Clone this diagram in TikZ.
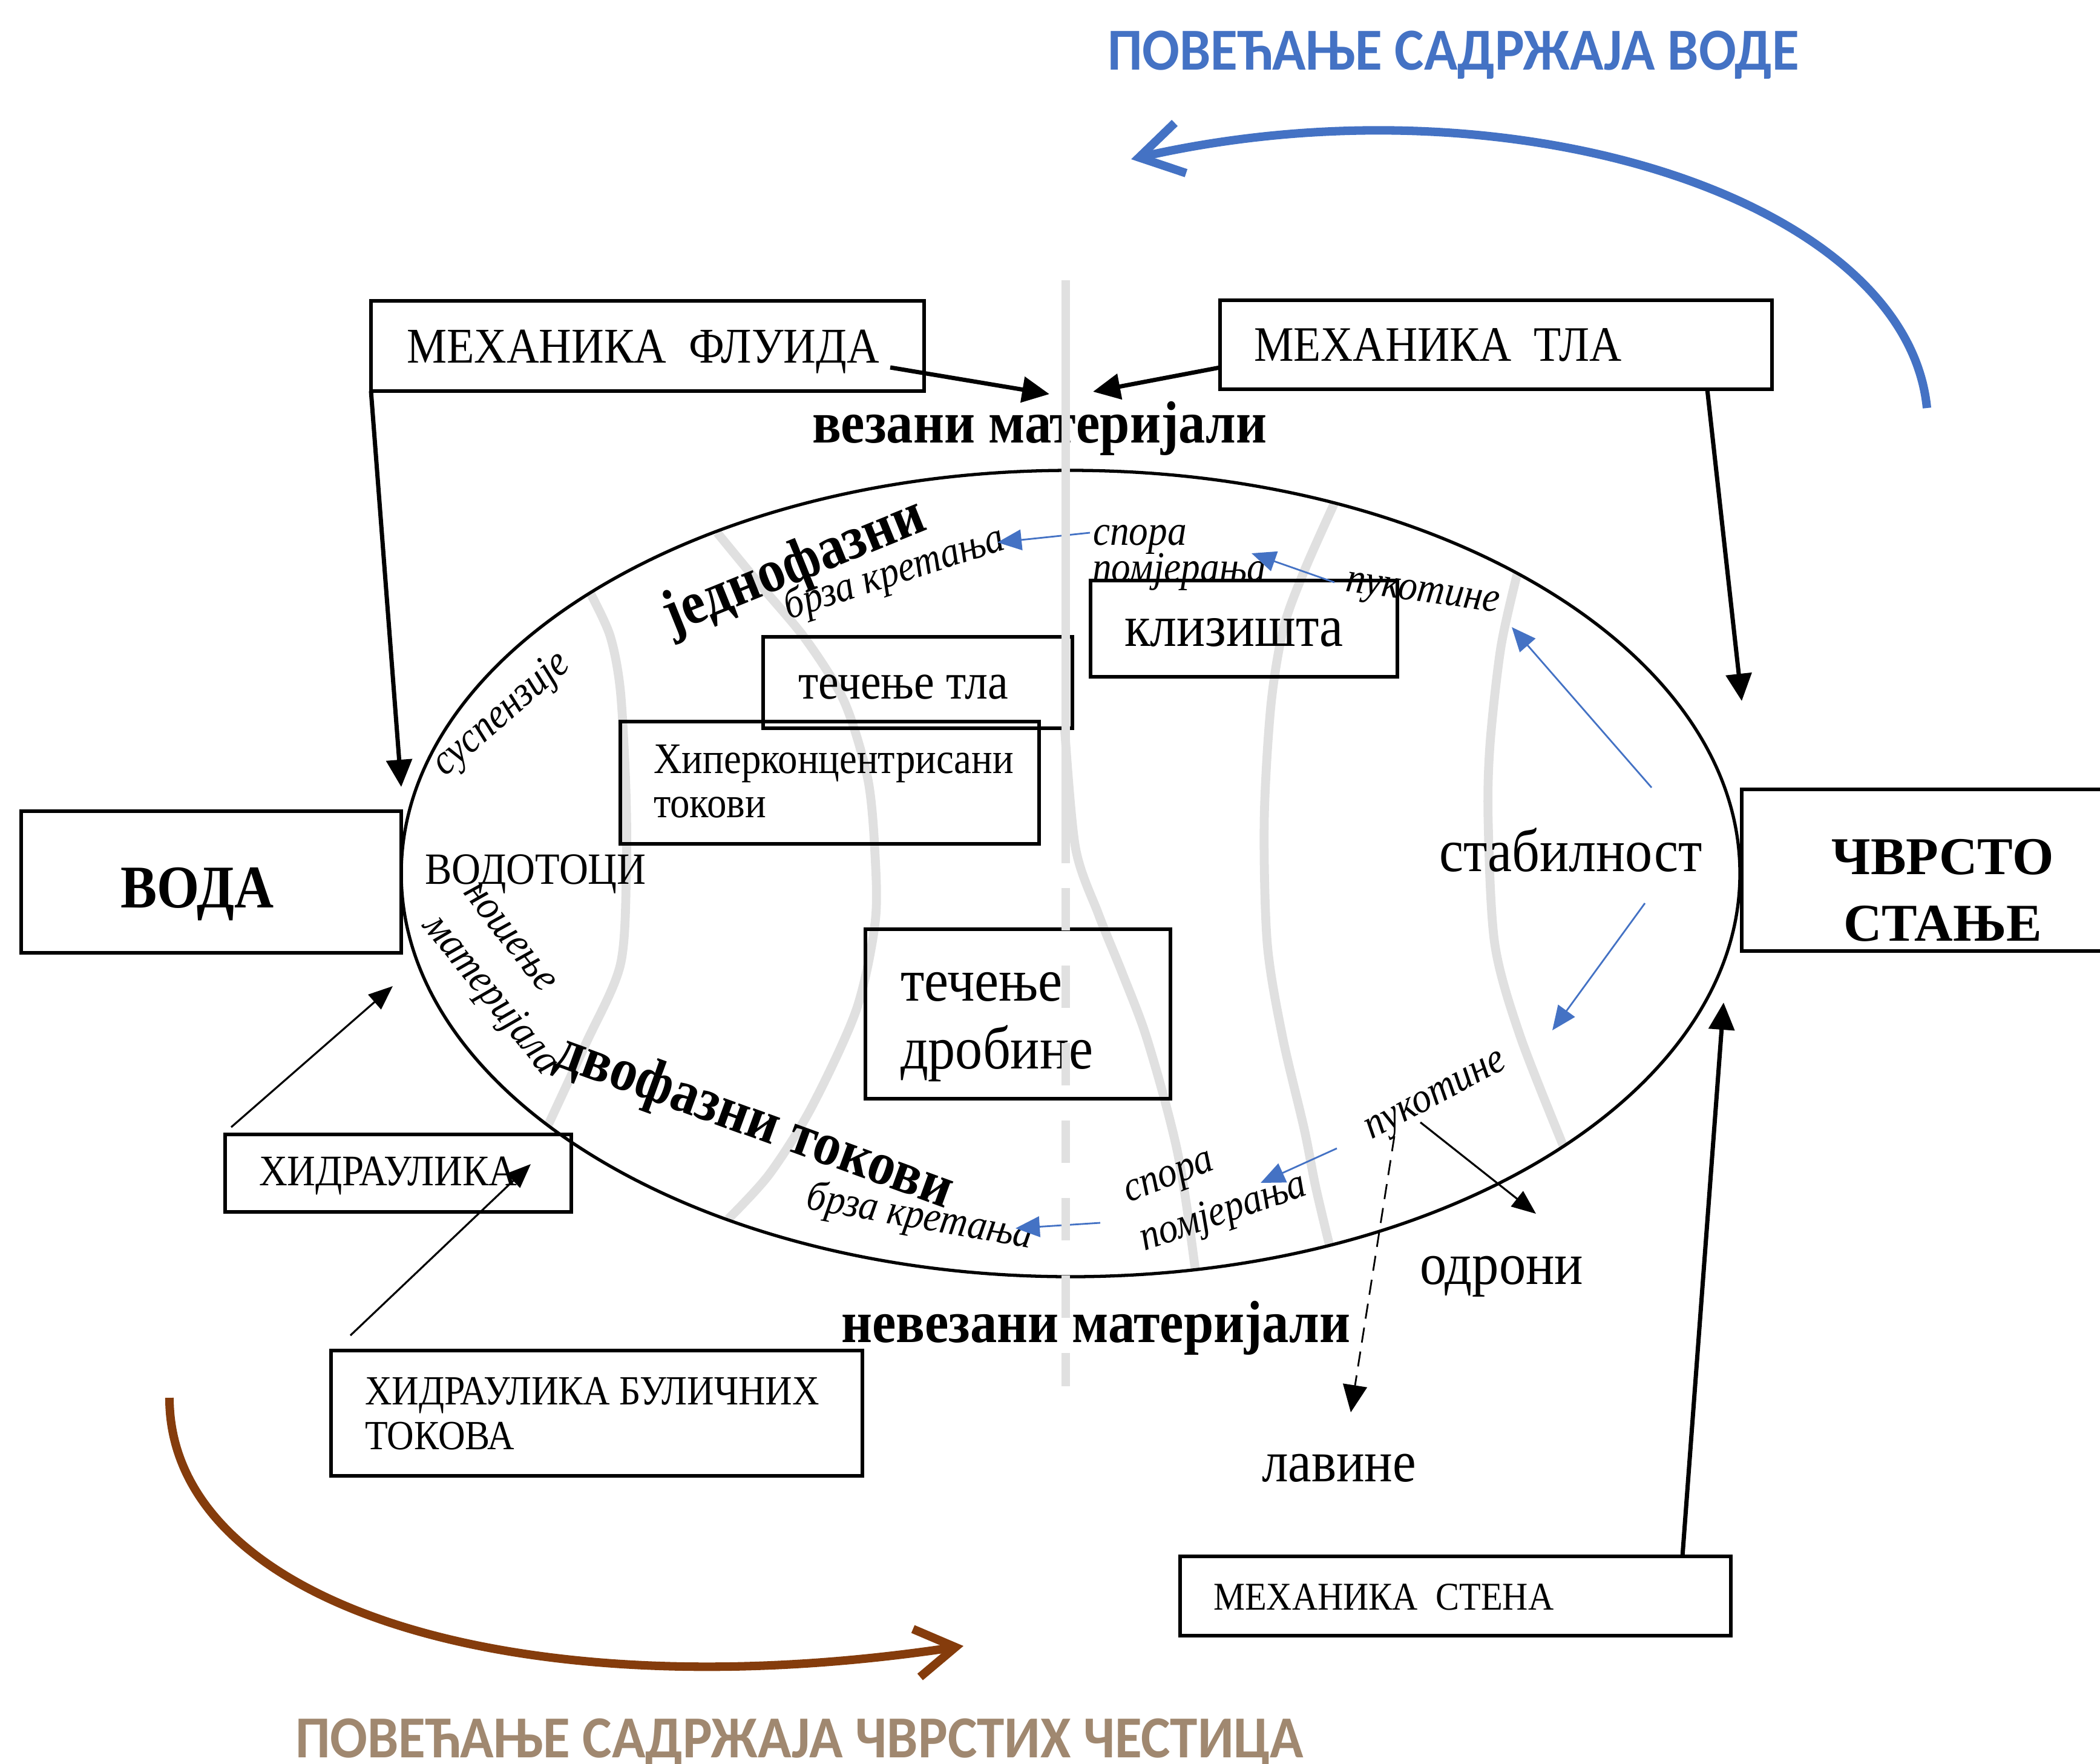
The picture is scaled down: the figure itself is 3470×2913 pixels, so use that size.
\documentclass[tikz,border=0pt]{standalone}
\usepackage{fontspec}
\setmainfont{Liberation Serif}[FakeStretch=0.9]
\newfontfamily\titlefont{Carlito}[FakeStretch=0.93]
\newfontfamily\widefont{Liberation Serif}
\usetikzlibrary{arrows.meta,shapes.geometric}
\definecolor{wblue}{RGB}{68,114,196}
\definecolor{sbrown}{RGB}{133,60,12}
\definecolor{stitle}{RGB}{160,136,112}
\definecolor{bandgrey}{RGB}{224,224,224}
\newcommand\fsz[1]{\fontsize{#1}{#1}\selectfont}
\begin{document}
\begin{tikzpicture}[x=0.1mm,y=-0.1mm,
  box/.style={draw, line width=1.6pt, inner sep=0pt, outer sep=0pt, anchor=north west},
  lbl/.style={inner sep=0pt, outer sep=0pt, anchor=base west},
  rl/.style={inner sep=0pt, outer sep=0pt, anchor=center},
  band/.style={draw=bandgrey, line width=4.2pt},
  arrBig/.style={line width=2pt, -{Triangle[length=4.5mm,width=4.2mm]}},
  arrThin/.style={line width=0.9pt, -{Triangle[length=4mm,width=3.2mm]}},
  arrBlue/.style={color=wblue, line width=0.8pt, -{Triangle[length=4mm,width=3.4mm]}},
]
\useasboundingbox (0,0) rectangle (3470,2913);

% grey bands
\draw[band] plot[smooth] coordinates {(975,979) (1008,1050) (1025,1140) (1034,1300) (1035,1441) (1025,1594) (968,1724) (905,1860)};
\draw[band] plot[smooth] coordinates {(1185,880) (1255,965) (1332,1057) (1395,1159) (1434,1287) (1446,1414) (1446,1524) (1415,1668) (1341,1829) (1271,1940) (1203,2014)};
\draw[band] plot[smooth] coordinates {(1759,1200) (1777,1400) (1815,1510) (1853,1604) (1890,1700) (1922,1808) (1945,1900) (1960,1987) (1975,2097)};
\draw[band] plot[smooth] coordinates {(2205,831) (2156,941) (2121,1037) (2100,1165) (2089,1355) (2094,1559) (2119,1712) (2155,1865) (2174,1961) (2197,2058)};
\draw[band] plot[smooth] coordinates {(2507,948) (2480,1069) (2462,1230) (2459,1357) (2470,1560) (2512,1712) (2584,1895)};

% ellipse
\node[draw, ellipse, line width=1.5pt, minimum width=221.2mm, minimum height=133.2mm, inner sep=0pt] (ell) at (1769,1443) {};

% boxes
\node[box, minimum width=91.4mm, minimum height=14.9mm] (mf) at (613,497) {};
\node[box, minimum width=91.2mm, minimum height=14.7mm] (mt) at (2016,496) {};
\node[box, minimum width=62.8mm, minimum height=23.4mm] (voda) at (35,1340) {};
\node[box, minimum width=62mm, minimum height=26.7mm] (cvrsto) at (2878,1304) {};
\node[box, minimum width=51.1mm, minimum height=15.1mm] (tectla) at (1261,1052) {};
\node[box, minimum width=69.2mm, minimum height=20.2mm] (hiper) at (1025,1192) {};
\node[box, minimum width=50.7mm, minimum height=15.9mm] (kliz) at (1802,959) {};
\node[box, minimum width=50.4mm, minimum height=28mm] (tecdrob) at (1430,1535) {};
\node[box, minimum width=57.2mm, minimum height=12.8mm] (hidr) at (372,1874) {};
\node[box, minimum width=87.8mm, minimum height=20.7mm] (hidrb) at (547,2231) {};
\node[box, minimum width=91mm, minimum height=13.1mm] (mst) at (1950,2571) {};

% texts in boxes
\node[lbl] (tMF) at (672,599) {\fsz{23.5pt}МЕХАНИКА\ \ ФЛУИДА};
\node[lbl] (tMT) at (2072,596) {\fsz{23.3pt}МЕХАНИКА\ \ ТЛА};
\node[lbl] (tMS) at (2005,2659) {\fsz{18.5pt}МЕХАНИКА\ \ СТЕНА};
\node[lbl] (tH) at (428,1958) {\fsz{20.5pt}ХИДРАУЛИКА};
\node[lbl] (tHB1) at (603,2320) {\fsz{19.5pt}ХИДРАУЛИКА БУЛИЧНИХ};
\node[lbl] (tHB2) at (603,2394) {\fsz{19.5pt}ТОКОВА};
\node[anchor=base, inner sep=0pt] (tV) at (326,1499) {\fsz{28.5pt}\bfseries ВОДА};
\node[anchor=base, inner sep=0pt] (tC1) at (3210,1444) {\widefont\fsz{25pt}\bfseries ЧВРСТО};
\node[anchor=base, inner sep=0pt] (tC2) at (3210,1554) {\widefont\fsz{25pt}\bfseries СТАЊЕ};
\node[lbl] (tTT) at (1319,1154) {\fsz{24pt}течење тла};
\node[lbl] (tHip1) at (1080,1277) {\fsz{20.5pt}Хиперконцентрисани};
\node[lbl] (tHip2) at (1080,1350) {\fsz{20.5pt}токови};
\node[lbl] (tTD1) at (1488,1653) {\fsz{28.5pt}течење};
\node[lbl] (tTD2) at (1488,1765) {\fsz{28.5pt}дробине};
\node[lbl] (tKl) at (1858,1067) {\fsz{27.8pt}клизишта};

% free texts
\node[lbl] (tVod) at (702,1460) {\fsz{21pt}ВОДОТОЦИ};
\node[lbl] (tVez) at (1342,731) {\fsz{28pt}\bfseries везани материјали};
\node[lbl] (tNev) at (1390,2217) {\fsz{28pt}\bfseries невезани материјали};
\node[lbl] (tSt) at (2378,1439) {\fsz{28.5pt}стабилност};
\node[lbl] (tOd) at (2346,2121) {\fsz{28pt}одрони};
\node[lbl] (tLa) at (2085,2447) {\fsz{27.5pt}лавине};
\node[lbl] (tSp1) at (1806,900) {\fsz{20pt}\itshape спора};
\node[lbl] (tPo1) at (1805,960) {\fsz{20pt}\itshape помјерања};
\node[rl, rotate=22] (tJed) at (1313,938) {\fsz{28.5pt}\bfseries једнофазни};
\node[rl, rotate=18] (tBr1) at (1478,948) {\fsz{20pt}\itshape брза кретања};
\node[rl, rotate=41] (tSus) at (830,1181) {\fsz{20pt}\itshape суспензије};
\node[rl, rotate=-52] (tNo) at (842,1548) {\fsz{20pt}\itshape ношење};
\node[rl, rotate=-51] (tMat) at (810,1644) {\fsz{20pt}\itshape материјала};
\node[rl, rotate=-20] (tDvo) at (1246,1855) {\fsz{28.5pt}\bfseries двофазни токови};
\node[rl, rotate=-10] (tBr2) at (1520,2012) {\fsz{20pt}\itshape брза кретања};
\node[rl, rotate=21] (tSp2) at (1934,1950) {\fsz{20pt}\itshape спора};
\node[rl, rotate=19] (tPo2) at (2022,2005) {\fsz{20pt}\itshape помјерања};
\node[rl, rotate=28] (tPu2) at (2375,1815) {\fsz{20pt}\itshape пукотине};
\node[rl, rotate=-8] (tPu1) at (2350,985) {\fsz{20pt}\itshape пукотине};

% titles
\node[lbl, text=wblue] (ttop) at (1830,116) {\titlefont\bfseries\fsz{28pt}ПОВЕЋАЊЕ САДРЖАЈА ВОДЕ};
\node[lbl, text=stitle] (tbot) at (488,2903) {\titlefont\bfseries\fsz{28pt}ПОВЕЋАЊЕ САДРЖАЈА ЧВРСТИХ ЧЕСТИЦА};

% big curved arrows
\coordinate (blueS) at (3184,674);
\coordinate (blueE) at (1869,263);
\draw[wblue, line width=4pt, -{Straight Barb[length=7mm,width=8.5mm]}] (blueS) .. controls (3150,330) and (2500,120) .. (blueE);
\coordinate (brS) at (280,2309);
\coordinate (brE) at (1592,2719);
\draw[sbrown, line width=4pt, -{Straight Barb[length=6.5mm,width=8mm]}] (brS) .. controls (280,2650) and (850,2830) .. (brE);

% black arrows
\coordinate (mfOut) at (1471,607);
\coordinate (vezL) at (1734,651);
\coordinate (vezR) at (1806,647);
\coordinate (vodaIn) at (663,1300);
\coordinate (cvIn) at (2878,1158);
\coordinate (cvIn2) at (2848,1656);
\coordinate (vodaIn2) at (649,1629);
\coordinate (hidrIn) at (877,1923);
\draw[arrBig] (mfOut) -- (vezL);
\draw[arrBig] ([yshift=-3.75mm]mt.west) -- (vezR);
\draw[arrBig] (mf.south west) -- (vodaIn);
\draw[arrBig] ([xshift=-10.7mm]mt.south east) -- (cvIn);
\draw[arrBig] ([xshift=-8mm]mst.north east) -- (cvIn2);
\draw[arrThin] ([xshift=1mm,yshift=1.2mm]hidr.north west) -- (vodaIn2);
\draw[arrThin] ([xshift=3.2mm,yshift=2.5mm]hidrb.north west) -- (hidrIn);

% blue small arrows
\coordinate (stU0) at (2729,1301); \coordinate (stU1) at (2498,1036);
\coordinate (stD0) at (2718,1492); \coordinate (stD1) at (2565,1702);
\coordinate (pu1a) at (2205,962); \coordinate (pu1b) at (2068,914);
\coordinate (sp1a) at (1801,880); \coordinate (sp1b) at (1648,896);
\coordinate (pu2a) at (2209,1897); \coordinate (pu2b) at (2083,1954);
\coordinate (sp2a) at (1818,2020); \coordinate (sp2b) at (1678,2029);
\draw[arrBlue] (stU0) -- (stU1);
\draw[arrBlue] (stD0) -- (stD1);
\draw[arrBlue] (pu1a) -- (pu1b);
\draw[arrBlue] (sp1a) -- (sp1b);
\draw[arrBlue] (pu2a) -- (pu2b);
\draw[arrBlue] (sp2a) -- (sp2b);

% odroni / lavine
\coordinate (pu2c) at (2347,1854); \coordinate (odT) at (2538,2005);
\coordinate (pu2d) at (2304,1877); \coordinate (laT) at (2232,2333);
\draw[arrThin] (pu2c) -- (odT);
\draw[line width=0.8pt, dash pattern=on 2.5mm off 1.5mm, -{Triangle[length=4.5mm,width=4mm]}] (pu2d) -- (laT);

% central grey line
\coordinate (vTop) at (1761,463); \coordinate (vMid) at (1761,1426);
\coordinate (vDash) at (1761,1467); \coordinate (vBot) at (1761,2290);
\draw[bandgrey, line width=3.8pt] (vTop) -- (vMid);
\draw[bandgrey, line width=3.8pt, dash pattern=on 7mm off 5.8mm] (vDash) -- (vBot);
\end{tikzpicture}
\end{document}
